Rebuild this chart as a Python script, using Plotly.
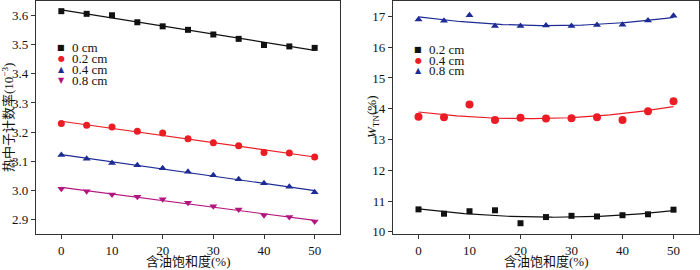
import numpy as np
import plotly.graph_objects as go
from plotly.subplots import make_subplots

# ---- data ----
saturation = [0, 5, 10, 15, 20, 25, 30, 35, 40, 45, 50]

left_labels = ["0 cm", "0.2 cm", "0.4 cm", "0.8 cm"]
count_0 = [3.615, 3.606, 3.601, 3.577, 3.563, 3.551, 3.535, 3.520, 3.499, 3.494, 3.489]
count_02 = [3.229, 3.223, 3.217, 3.203, 3.197, 3.177, 3.163, 3.153, 3.130, 3.128, 3.114]
count_04 = [3.121, 3.108, 3.094, 3.086, 3.076, 3.064, 3.052, 3.038, 3.024, 3.012, 2.993]
count_08 = [3.005, 2.997, 2.986, 2.978, 2.969, 2.957, 2.945, 2.934, 2.914, 2.908, 2.893]

right_labels = ["0.2 cm", "0.4 cm", "0.8 cm"]
wtn_02 = [10.73, 10.59, 10.67, 10.70, 10.28, 10.48, 10.52, 10.50, 10.54, 10.57, 10.72]
wtn_04 = [13.74, 13.72, 14.14, 13.63, 13.71, 13.68, 13.69, 13.72, 13.63, 13.92, 14.24]
wtn_08 = [16.90, 16.86, 17.04, 16.69, 16.69, 16.70, 16.69, 16.72, 16.73, 16.87, 17.02]

left_ticks = [2.9, 3.0, 3.1, 3.2, 3.3, 3.4, 3.5, 3.6]
right_ticks = [10, 11, 12, 13, 14, 15, 16, 17]
x_ticks = [0, 10, 20, 30, 40, 50]

x_title = "含油饱和度(%)"
left_y_title = "热中子计数率(10<sup>−3</sup>)"
right_y_title = "<i>W</i><sub>TN</sub>(%)"

# ---- styles ----
BLACK = "#111111"
RED = "#ec1c24"
BLUE = "#1d2b94"
MAGENTA = "#b3157f"
SERIF = "Liberation Serif"
SERIF_CJK = "Liberation Serif, Noto Sans CJK SC"
W, H = 700, 270

fig = make_subplots(rows=1, cols=2)

xs = np.array(saturation, dtype=float)
xfit = np.linspace(0, 50, 101)

left_series = [
    (count_0, BLACK, "square", 6),
    (count_02, RED, "circle", 7),
    (count_04, BLUE, "triangle-up", 7),
    (count_08, MAGENTA, "triangle-down", 7),
]
for ys, color, sym, size in left_series:
    coef = np.polyfit(xs, np.array(ys), 1)
    fig.add_trace(go.Scatter(x=xfit, y=np.polyval(coef, xfit), mode="lines",
                             line=dict(color=color, width=1.2), showlegend=False,
                             hoverinfo="skip"), row=1, col=1)
    fig.add_trace(go.Scatter(x=saturation, y=ys, mode="markers",
                             marker=dict(color=color, symbol=sym, size=size),
                             showlegend=False), row=1, col=1)

right_series = [
    (wtn_02, BLACK, "square", 6),
    (wtn_04, RED, "circle", 8),
    (wtn_08, BLUE, "triangle-up", 7),
]
for ys, color, sym, size in right_series:
    coef = np.polyfit(xs, np.array(ys), 2)
    fig.add_trace(go.Scatter(x=xfit, y=np.polyval(coef, xfit), mode="lines",
                             line=dict(color=color, width=1.2), showlegend=False,
                             hoverinfo="skip"), row=1, col=2)
    fig.add_trace(go.Scatter(x=saturation, y=ys, mode="markers",
                             marker=dict(color=color, symbol=sym, size=size),
                             showlegend=False), row=1, col=2)

# ---- legends drawn as text annotations (compact spacing) ----
glyphs = {"square": "■", "circle": "●", "triangle-up": "▲", "triangle-down": "▼"}

def add_legend(labels, series, x0_px, y0_px, step_px):
    for i, (lab, (ys, color, sym, size)) in enumerate(zip(labels, series)):
        ypx = y0_px + i * step_px
        fig.add_annotation(xref="paper", yref="paper", x=x0_px / W, y=1 - ypx / H,
                           xanchor="center", yanchor="middle", showarrow=False,
                           text=glyphs[sym],
                           font=dict(family="DejaVu Sans", size=8, color=color))
        fig.add_annotation(xref="paper", yref="paper", x=(x0_px + 9) / W, y=1 - ypx / H,
                           xanchor="left", yanchor="middle", showarrow=False,
                           text=lab, font=dict(family=SERIF, size=13, color=BLACK))

add_legend(left_labels, left_series, 61, 47.5, 11)
add_legend(right_labels, right_series, 418, 50, 10.2)

# ---- axis titles as annotations ----
def title_ann(text, xpx, ypx, angle=0):
    fig.add_annotation(xref="paper", yref="paper", x=xpx / W, y=1 - ypx / H,
                       xanchor="center", yanchor="middle", showarrow=False,
                       text=text, textangle=angle,
                       font=dict(family=SERIF_CJK, size=13, color=BLACK))

title_ann(x_title, 188, 261)
title_ann(x_title, 546, 261)
title_ann(left_y_title, 8, 118, -90)
title_ann(right_y_title, 372, 117, -90)

axis_common = dict(showline=True, linecolor="#333333", linewidth=1.3, mirror=True,
                   ticks="outside", ticklen=4, tickwidth=1, tickcolor="#333333",
                   showgrid=False, zeroline=False, automargin=False,
                   tickfont=dict(family=SERIF, size=13, color=BLACK))

fig.update_xaxes(**axis_common, range=[-5, 55], tickvals=x_ticks)
fig.update_xaxes(domain=[36 / W, 340 / W], row=1, col=1)
fig.update_xaxes(domain=[393 / W, 699 / W], row=1, col=2)

fig.update_yaxes(**axis_common)
fig.update_yaxes(domain=[(H - 234) / H, (H - 1) / H], range=[2.85, 3.65],
                 tickvals=left_ticks, tickformat=".1f", row=1, col=1)
fig.update_yaxes(domain=[(H - 234) / H, (H - 1) / H], range=[9.93, 17.5],
                 tickvals=right_ticks, row=1, col=2)

fig.update_layout(width=W, height=H, margin=dict(l=0, r=0, t=0, b=0),
                  font=dict(family=SERIF),
                  paper_bgcolor="white", plot_bgcolor="white", showlegend=False)

fig.write_html("out.html", config={"displayModeBar": False},
               post_script="document.body.style.margin='0';document.body.style.padding='0';")
